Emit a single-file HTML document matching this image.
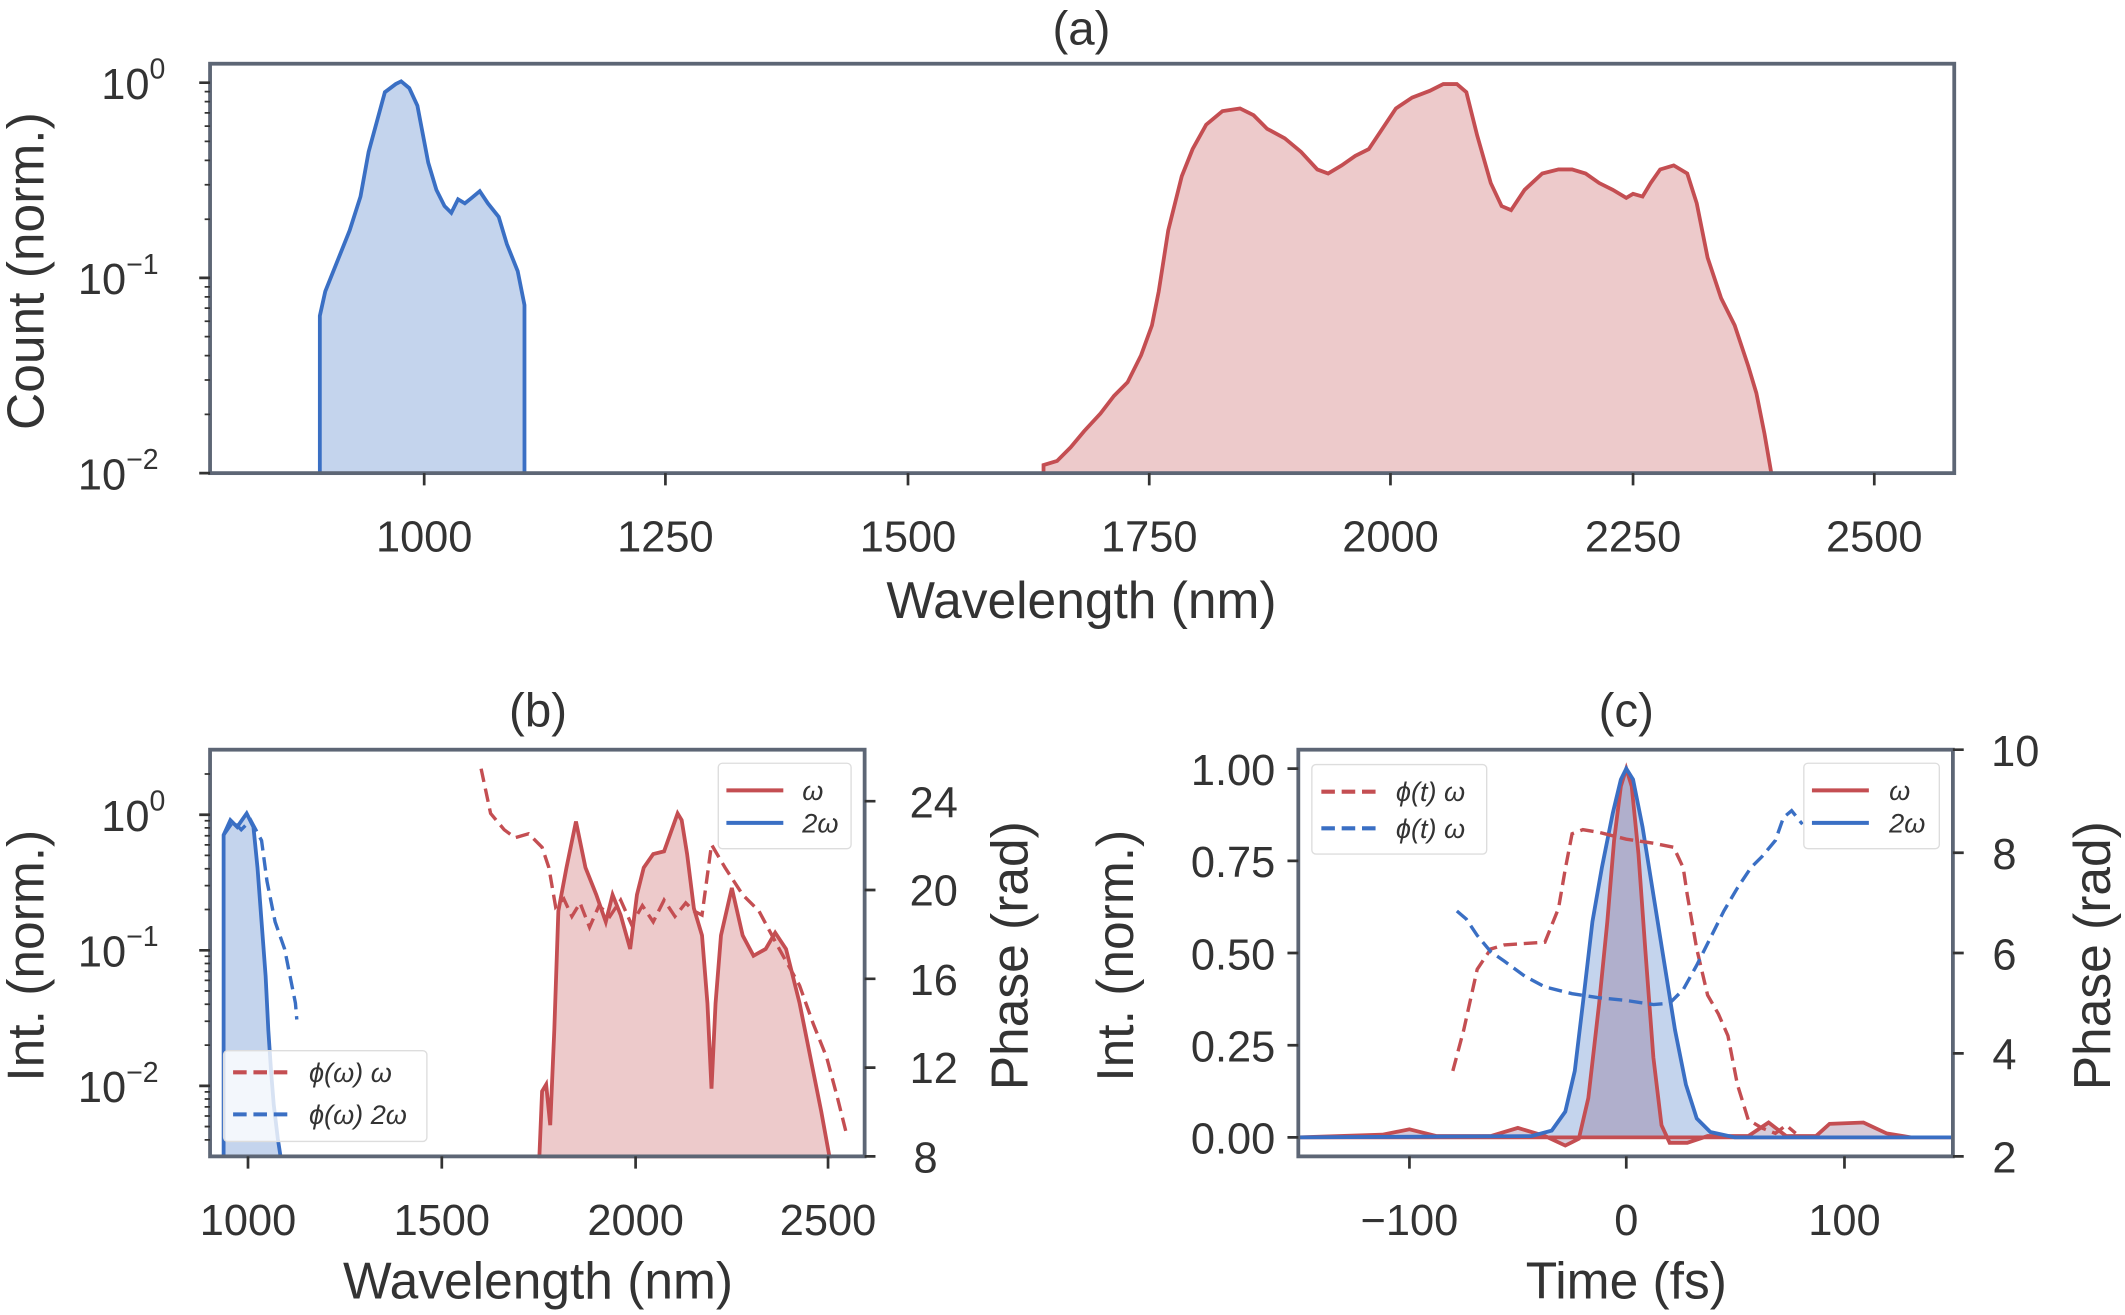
<!DOCTYPE html>
<html><head><meta charset="utf-8"><style>html,body{margin:0;padding:0;background:#fff}svg{display:block}</style></head>
<body>
<svg width="2125" height="1315" viewBox="0 0 1568 970" preserveAspectRatio="none" xmlns="http://www.w3.org/2000/svg" font-family="Liberation Sans, DejaVu Sans, sans-serif" fill="#333">
<!-- ===== Panel (a) ===== -->
<text x="798" y="33" font-size="35" text-anchor="middle">(a)</text>
<path d="M236,349 L236,233 L240,215 L248,195 L258,170 L266,145 L272,112 L278,90 L284,68 L292,62 L296,60 L302,65 L308,78 L316,120 L322,140 L328,152 L333,157 L338,147 L343,150 L348,146 L354,141 L360,150 L368,160 L374,180 L382,200 L387,225 L387,349 Z" fill="#3a6fc4" fill-opacity="0.3" stroke="none"/>
<path d="M236,349 L236,233 L240,215 L248,195 L258,170 L266,145 L272,112 L278,90 L284,68 L292,62 L296,60 L302,65 L308,78 L316,120 L322,140 L328,152 L333,157 L338,147 L343,150 L348,146 L354,141 L360,150 L368,160 L374,180 L382,200 L387,225 L387,349" fill="none" stroke="#3a6fc4" stroke-width="2.8"/>
<path id="ra" d="M770,349 L770,343 L780,340 L790,330 L800,318 L812,305 L822,292 L832,282 L842,262 L850,240 L855,215 L862,170 L872,130 L880,110 L890,92 L902,82 L915,80 L925,85 L935,95 L948,102 L960,112 L972,125 L980,128 L990,122 L1000,115 L1010,110 L1020,95 L1030,80 L1042,72 L1055,67 L1065,62 L1075,62 L1082,68 L1090,100 L1100,135 L1108,152 L1115,155 L1125,140 L1138,128 L1150,125 L1160,125 L1170,128 L1180,135 L1190,140 L1200,146 L1205,143 L1212,145 L1218,135 L1225,125 L1235,122 L1245,128 L1252,150 L1260,190 L1270,220 L1280,240 L1290,270 L1296,290 L1302,320 L1307,349" fill="#c44e52" fill-opacity="0.3" stroke="#c44e52" stroke-width="2.8"/>
<rect x="155" y="47" width="1287" height="302" fill="none" stroke="#5d6675" stroke-width="2.8"/>
<g stroke="#333" stroke-width="2">
<path d="M147,61h8M147,205h8M147,349h8"/>
<path stroke-width="1.3" d="M151,161.7h4M151,136.3h4M151,118.3h4M151,104.3h4M151,93h4M151,83.3h4M151,75h4M151,67.6h4M151,305.7h4M151,280.3h4M151,262.3h4M151,248.3h4M151,237h4M151,227.3h4M151,219h4M151,211.6h4"/>
<path d="M313,349v9M491,349v9M670,349v9M848,349v9M1026,349v9M1205,349v9M1383,349v9"/>
</g>
<g font-size="32" text-anchor="end">
<text x="122" y="73">10<tspan font-size="21" dy="-15">0</tspan></text>
<text x="117" y="217">10<tspan font-size="21" dy="-15">−1</tspan></text>
<text x="117" y="361">10<tspan font-size="21" dy="-15">−2</tspan></text>
</g>
<g font-size="32" text-anchor="middle">
<text x="313" y="407">1000</text><text x="491" y="407">1250</text><text x="670" y="407">1500</text><text x="848" y="407">1750</text><text x="1026" y="407">2000</text><text x="1205" y="407">2250</text><text x="1383" y="407">2500</text>
</g>
<text x="798" y="456" font-size="38" text-anchor="middle">Wavelength (nm)</text>
<text transform="translate(32,200) rotate(-90)" font-size="38" text-anchor="middle">Count (norm.)</text>

<!-- ===== Panel (b) ===== -->
<text x="397" y="536" font-size="35" text-anchor="middle">(b)</text>
<path d="M165,853 L165,616 L170,605 L175,610 L182,600 L187,610 L190,640 L193,680 L196,720 L198,760 L200,790 L202,815 L205,840 L207,853 Z" fill="#3a6fc4" fill-opacity="0.3"/>
<path d="M165,853 L165,616 L170,605 L175,610 L182,600 L187,610 L190,640 L193,680 L196,720 L198,760 L200,790 L202,815 L205,840 L207,853" fill="none" stroke="#3a6fc4" stroke-width="2.8"/>
<path d="M165,616 L172,606 L178,612 L185,605 L193,620 L197,650 L203,680 L210,700 L214,720 L218,740 L219,752" fill="none" stroke="#3a6fc4" stroke-width="2.5" stroke-dasharray="10,5"/>
<path d="M398,853 L400,805 L403,800 L406,830 L409,760 L412,672 L418,640 L425,606 L432,640 L440,660 L447,680 L452,660 L458,675 L465,700 L470,660 L475,640 L482,630 L490,628 L500,600 L503,605 L507,630 L512,670 L518,690 L522,740 L525,803 L528,740 L532,690 L540,655 L548,690 L556,705 L565,700 L572,688 L580,700 L590,740 L600,790 L606,820 L612,853 Z" fill="#c44e52" fill-opacity="0.3" stroke="#c44e52" stroke-width="2.8"/>
<path d="M355,567 L362,600 L372,612 L380,618 L390,615 L400,625 L405,640 L410,669 L416,663 L422,676 L428,666 L435,684 L442,668 L450,676 L458,664 L466,682 L474,668 L482,680 L490,664 L498,676 L506,666 L512,672 L518,675 L525,623 L535,640 L548,660 L560,672 L575,700 L590,727 L600,755 L610,780 L618,810 L625,838" fill="none" stroke="#c44e52" stroke-width="2.5" stroke-dasharray="10,5"/>
<rect x="155" y="553" width="483" height="300" fill="none" stroke="#5d6675" stroke-width="2.8"/>
<g stroke="#333" stroke-width="2">
<path d="M147,601h8M147,701h8M147,801h8"/>
<path stroke-width="1.3" d="M151,840.8h4M151,831h4M151,823.2h4M151,816.5h4M151,810.7h4M151,805.4h4M151,770.9h4M151,753.3h4M151,740.8h4M151,731h4M151,723.2h4M151,716.5h4M151,710.7h4M151,705.4h4M151,670.9h4M151,653.3h4M151,640.8h4M151,631h4M151,623.2h4M151,616.5h4M151,610.7h4M151,605.4h4M151,570.9h4"/>
<path d="M638,591h8M638,656.5h8M638,722h8M638,787.5h8M638,853h8"/>
<path d="M183,853v9M326,853v9M469,853v9M611,853v9"/>
</g>
<g font-size="32" text-anchor="end">
<text x="122" y="613">10<tspan font-size="21" dy="-15">0</tspan></text>
<text x="117" y="713">10<tspan font-size="21" dy="-15">−1</tspan></text>
<text x="117" y="813">10<tspan font-size="21" dy="-15">−2</tspan></text>
</g>
<g font-size="32" text-anchor="middle">
<text x="689" y="603">24</text><text x="689" y="668">20</text><text x="689" y="734">16</text><text x="689" y="799">12</text><text x="683" y="865">8</text>
<text x="183" y="911">1000</text><text x="326" y="911">1500</text><text x="469" y="911">2000</text><text x="611" y="911">2500</text>
</g>
<text x="397" y="958" font-size="38" text-anchor="middle">Wavelength (nm)</text>
<text transform="translate(32,705) rotate(-90)" font-size="38" text-anchor="middle">Int. (norm.)</text>
<text transform="translate(758,705) rotate(-90)" font-size="38" text-anchor="middle">Phase (rad)</text>
<rect x="530" y="563" width="98" height="63" rx="3" fill="#fff" fill-opacity="0.8" stroke="#ddd"/>
<path d="M536,583h42" stroke="#c44e52" stroke-width="3"/><path d="M536,607h42" stroke="#3a6fc4" stroke-width="3"/>
<g font-size="20" font-style="italic"><text x="592" y="590">ω</text><text x="592" y="614">2ω</text></g>
<rect x="165" y="775" width="150" height="67" rx="3" fill="#fff" fill-opacity="0.8" stroke="#ddd"/>
<path d="M172,791h40" stroke="#c44e52" stroke-width="3" stroke-dasharray="10,5"/><path d="M172,822h40" stroke="#3a6fc4" stroke-width="3" stroke-dasharray="10,5"/>
<g font-size="20" font-style="italic"><text x="228" y="798">ϕ(ω) ω</text><text x="228" y="829">ϕ(ω) 2ω</text></g>

<!-- ===== Panel (c) ===== -->
<text x="1200" y="536" font-size="35" text-anchor="middle">(c)</text>
<path d="M958,839 L1130,838 L1145,834 L1155,820 L1162,790 L1168,740 L1175,680 L1182,640 L1190,600 L1196,575 L1200,567 L1205,575 L1212,610 L1220,660 L1228,710 L1236,760 L1244,800 L1252,825 L1262,835 L1280,839 L1441,839 Z" fill="#3a6fc4" fill-opacity="0.3"/>
<path d="M958,839 L1020,837 L1040,833 L1060,838 L1100,838 L1120,832 L1140,838 L1155,845 L1165,840 L1172,810 L1180,740 L1186,680 L1191,620 L1196,580 L1200,567 L1204,580 L1209,630 L1214,700 L1220,780 L1226,830 L1232,843 L1245,843 L1260,838 L1290,838 L1305,828 L1318,838 L1340,838 L1350,829 L1375,828 L1392,836 L1410,839 L1441,839 Z" fill="#8c6b8f" fill-opacity="0.35" stroke="#c44e52" stroke-width="2.8"/>
<path d="M958,839 L1130,838 L1145,834 L1155,820 L1162,790 L1168,740 L1175,680 L1182,640 L1190,600 L1196,575 L1200,567 L1205,575 L1212,610 L1220,660 L1228,710 L1236,760 L1244,800 L1252,825 L1262,835 L1280,839 L1441,839" fill="none" stroke="#3a6fc4" stroke-width="2.8"/>
<path d="M1072,790 L1080,760 L1090,715 L1100,700 L1110,697 L1140,695 L1150,670 L1155,641 L1160,615 L1168,612 L1180,614 L1200,619 L1220,622 L1235,625 L1242,640 L1245,660 L1252,700 L1260,734 L1268,748 L1275,764 L1282,800 L1290,826 L1300,832 L1310,836 L1318,830 L1325,836" fill="none" stroke="#c44e52" stroke-width="2.5" stroke-dasharray="10,5"/>
<path d="M1075,672 L1082,678 L1090,690 L1100,702 L1110,709 L1125,720 L1140,728 L1160,733 L1180,736 L1200,738 L1220,741 L1232,740 L1242,730 L1252,712 L1262,692 L1272,672 L1282,655 L1292,640 L1300,632 L1310,620 L1316,603 L1322,598 L1330,608" fill="none" stroke="#3a6fc4" stroke-width="2.5" stroke-dasharray="10,5"/>
<rect x="958" y="553" width="483" height="300" fill="none" stroke="#5d6675" stroke-width="2.8"/>
<g stroke="#333" stroke-width="2">
<path d="M950,567h8M950,635h8M950,703h8M950,771h8M950,839h8"/>
<path d="M1441,553h8M1441,629h8M1441,703h8M1441,777h8M1441,853h8"/>
<path d="M1040,853v9M1200,853v9M1361,853v9"/>
</g>
<g font-size="32" text-anchor="end">
<text x="941" y="579">1.00</text><text x="941" y="647">0.75</text><text x="941" y="715">0.50</text><text x="941" y="783">0.25</text><text x="941" y="851">0.00</text>
</g>
<g font-size="32" text-anchor="middle">
<text x="1487" y="565">10</text><text x="1479" y="641">8</text><text x="1479" y="715">6</text><text x="1479" y="789">4</text><text x="1479" y="865">2</text>
<text x="1040" y="911">−100</text><text x="1200" y="911">0</text><text x="1361" y="911">100</text>
</g>
<text x="1200" y="958" font-size="38" text-anchor="middle">Time (fs)</text>
<text transform="translate(836,705) rotate(-90)" font-size="38" text-anchor="middle">Int. (norm.)</text>
<text transform="translate(1557,705) rotate(-90)" font-size="38" text-anchor="middle">Phase (rad)</text>
<rect x="968" y="564" width="129" height="66" rx="3" fill="#fff" fill-opacity="0.8" stroke="#ddd"/>
<path d="M975,584h40" stroke="#c44e52" stroke-width="3" stroke-dasharray="10,5"/><path d="M975,611h40" stroke="#3a6fc4" stroke-width="3" stroke-dasharray="10,5"/>
<g font-size="20" font-style="italic"><text x="1030" y="591">ϕ(t) ω</text><text x="1030" y="618">ϕ(t) ω</text></g>
<rect x="1331" y="563" width="100" height="63" rx="3" fill="#fff" fill-opacity="0.8" stroke="#ddd"/>
<path d="M1337,583h42" stroke="#c44e52" stroke-width="3"/><path d="M1337,607h42" stroke="#3a6fc4" stroke-width="3"/>
<g font-size="20" font-style="italic"><text x="1394" y="590">ω</text><text x="1394" y="614">2ω</text></g>
</svg>
</body></html>
